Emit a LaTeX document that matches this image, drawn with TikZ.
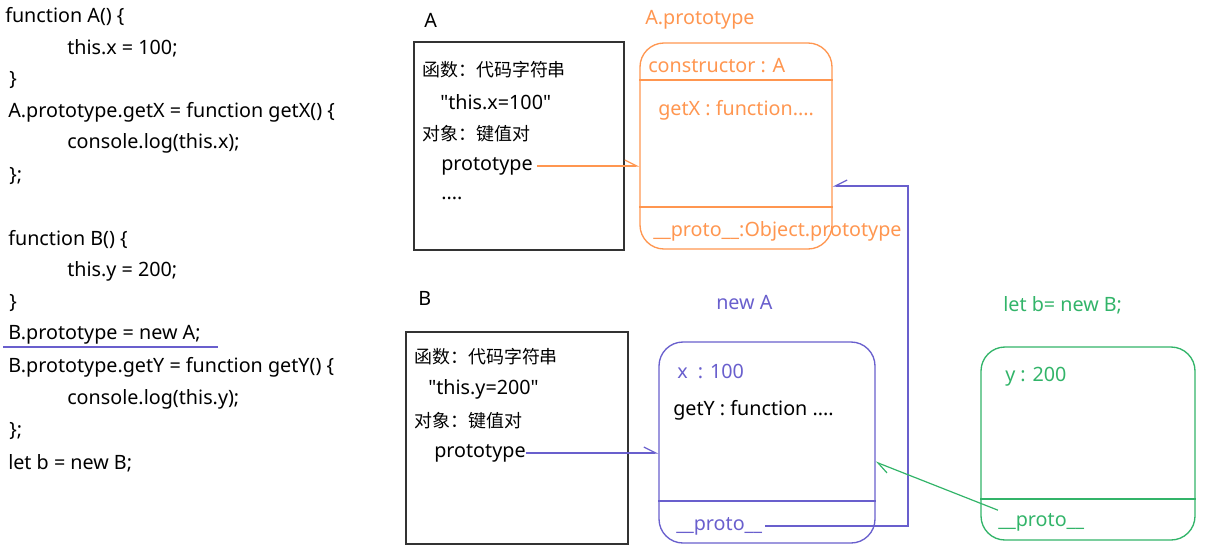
\documentclass[tikz,border=0pt]{standalone}
\usepackage{fontspec}
\setmainfont{Noto Sans}[Ligatures=TeXOff]
\newfontfamily\cjk[Scale=0.91]{Noto Sans CJK SC}
\usetikzlibrary{positioning,fit,arrows.meta}
\definecolor{protoorange}{RGB}{255,150,80}
\definecolor{newblue}{RGB}{105,95,205}
\definecolor{letgreen}{RGB}{50,180,105}
\tikzset{
  code/.style={anchor=west,inner sep=0pt,font=\fontsize{14.8}{17}\selectfont},
  txt/.style={anchor=west,inner sep=0pt,font=\fontsize{14.8}{17}\selectfont},
  fnbox/.style={draw=black!80,line width=1.1pt,inner sep=0pt},
  objbox/.style={draw,line width=1pt,rounded corners=18pt,inner sep=0pt},
  link/.style={line width=0.9pt,-{Straight Barb[harpoon,length=9pt,width=9pt]}},
  linkr/.style={line width=0.9pt,-{Straight Barb[harpoon,swap,length=9pt,width=9pt]}}
}
\begin{document}
\begin{tikzpicture}[x=0.75pt,y=-0.75pt]
  \useasboundingbox (0,0) rectangle (1205,550);
  % code on the left
  \node[code] (l1) at (5,17) {function A() \{};
  \node[code] (l2) at (67,48) {this.x = 100;};
  \node[code] (l3) at (9,80) {\}};
  \node[code] (l4) at (8,112) {A.prototype.getX = function getX() \{};
  \node[code] (l5) at (67,143) {console.log(this.x);};
  \node[code] (l6) at (9,176) {\};};
  \node[code] (l7) at (8,240) {function B() \{};
  \node[code] (l8) at (67,271) {this.y = 200;};
  \node[code] (l9) at (9,303) {\}};
  \node[code] (l10) at (8,335) {B.prototype = new A;};
  \node[code] (l11) at (8,367) {B.prototype.getY = function getY() \{};
  \node[code] (l12) at (67,399) {console.log(this.y);};
  \node[code] (l13) at (9,431) {\};};
  \node[code] (l14) at (8,463) {let b = new B;};
  \draw[newblue,line width=1pt] (3,347) coordinate (u1) -- (218,347) coordinate (u2);

  % function A
  \node[txt] (labA) at (424,20) {A};
  \node[fnbox,fit={(414,42)(624,250)}] (fnA) {};
  \node[txt] (a1) at (422,70) {\cjk 函数：代码字符串};
  \node[txt] (a2) at (440,102) {"this.x=100"};
  \node[txt] (a3) at (422,134) {\cjk 对象：键值对};
  \node[txt] (a4) at (441,166) {prototype};
  \node[txt] (a5) at (441,198) {....};

  % A.prototype
  \node[txt,protoorange] (labAp) at (645,20) {A.prototype};
  \node[objbox,protoorange,fit={(640,43)(832,249)}] (Aproto) {};
  \draw[protoorange,line width=1pt] (Aproto.west |- 0,80) -- (Aproto.east |- 0,80);
  \draw[protoorange,line width=1pt] (Aproto.west |- 0,207) -- (Aproto.east |- 0,207);
  \node[txt,protoorange] (ap1) at (648,66) {constructor : A};
  \node[txt,protoorange] (ap2) at (658,110) {getX : function....};
  \node[txt,protoorange] (ap3) at (653,231) {\_\_proto\_\_:Object.prototype};
  \draw[link,protoorange] ([xshift=3pt]a4.east) -- (Aproto.west |- a4);

  % function B
  \node[txt] (labB) at (418,298) {B};
  \node[fnbox,fit={(406,332)(628,544)}] (fnB) {};
  \node[txt] (b1) at (414,357) {\cjk 函数：代码字符串};
  \node[txt] (b2) at (428,389) {"this.y=200"};
  \node[txt] (b3) at (414,421) {\cjk 对象：键值对};
  \node[txt] (b4) at (434,453) {prototype};

  % new A
  \node[txt,newblue] (labN) at (716,303) {new A};
  \node[objbox,newblue,fit={(659,342)(875,543)}] (newA) {};
  \draw[newblue,line width=1pt] (newA.west |- 0,501) -- (newA.east |- 0,501);
  \node[txt,newblue] (n1) at (677,371) {x ~: 100};
  \node[txt] (n2) at (673,410) {getY : function ....};
  \node[txt,newblue] (n3) at (676,526) {\_\_proto\_\_};
  \draw[link,newblue] (b4.east) -- (newA.west |- b4);
  \coordinate (turn) at (908,186);
  \draw[linkr,newblue] ([xshift=2pt]n3.east) -| (turn) -- (Aproto.east |- turn);

  % let b
  \node[txt,letgreen] (labL) at (1003,305) {let b= new B;};
  \node[objbox,letgreen,fit={(981,347)(1195,540)}] (letb) {};
  \draw[letgreen,line width=1pt] (letb.west |- 0,499) -- (letb.east |- 0,499);
  \node[txt,letgreen] (g1) at (1005,377) {y : 200};
  \node[txt,letgreen] (g2) at (998,522) {\_\_proto\_\_};
  \draw[link,letgreen] ([yshift=2pt]g2.north west) -- (newA.east |- 0,462);
\end{tikzpicture}
\end{document}
